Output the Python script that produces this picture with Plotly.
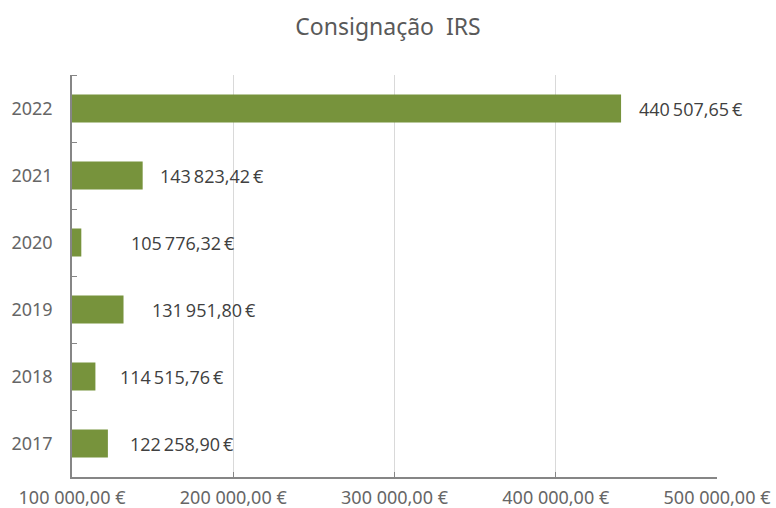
import plotly.graph_objects as go

years = ["2017", "2018", "2019", "2020", "2021", "2022"]
values = [122258.90, 114515.76, 131951.80, 105776.32, 143823.42, 440507.65]
label_shift = [20, 23, 26, 48, 15, 16]
x_ticks = [100000, 200000, 300000, 400000, 500000]

def fmt(v):
    s = f"{v:,.2f}"
    return s.replace(",", " ").replace(".", ",") + " €"

def fmt_label(v):
    s = f"{v:,.2f}"
    return s.replace(",", "\u2009").replace(".", ",") + "\u2009€"

pos = list(range(len(years)))

fig = go.Figure()
fig.add_trace(go.Bar(
    y=pos, x=values, orientation="h",
    marker=dict(color="#77933C", line=dict(width=0)),
    hoverinfo="skip",
))
for p, v, s in zip(pos, values, label_shift):
    fig.add_annotation(x=v, y=p, text=fmt_label(v), showarrow=False, xanchor="left",
                       xshift=s, font=dict(family="Liberation Sans Narrow, Open Sans, sans-serif", size=18, color="#404040"))

fig.update_layout(
    width=776, height=508,
    margin=dict(l=72, r=59, t=75, b=31),
    paper_bgcolor="white", plot_bgcolor="white",
    bargap=0.58,
    showlegend=False,
    title=dict(text="Consignação  IRS", x=0.5, xanchor="center", y=0.947, yanchor="middle",
               font=dict(family="Noto Sans, sans-serif", size=23, color="#595959")),
    xaxis=dict(range=[100000, 500000], tickvals=x_ticks, ticktext=[fmt(v) for v in x_ticks],
               automargin=False,
               showgrid=True, gridcolor="#D9D9D9", gridwidth=1,
               showline=True, linecolor="#868686", linewidth=1.5,
               ticks="inside", ticklen=5, tickcolor="#868686",
               tickfont=dict(family="Noto Sans, sans-serif", size=18, color="#666666"),
               ticklabelstandoff=4,
               zeroline=False, fixedrange=True),
    yaxis=dict(type="linear", range=[-0.5, len(years) - 0.5], automargin=False,
               tickvals=pos, ticktext=years, ticks="",
               minor=dict(tickvals=[p + 0.5 for p in pos[:-1]] + [len(years) - 0.5],
                          ticks="inside", ticklen=5, tickcolor="#868686", showgrid=False),
               showline=True, linecolor="#868686", linewidth=1.5,
               showgrid=False, zeroline=False,
               tickfont=dict(family="Noto Sans, sans-serif", size=18, color="#666666"),
               ticklabelstandoff=14),
)
fig.write_html("out.html")
